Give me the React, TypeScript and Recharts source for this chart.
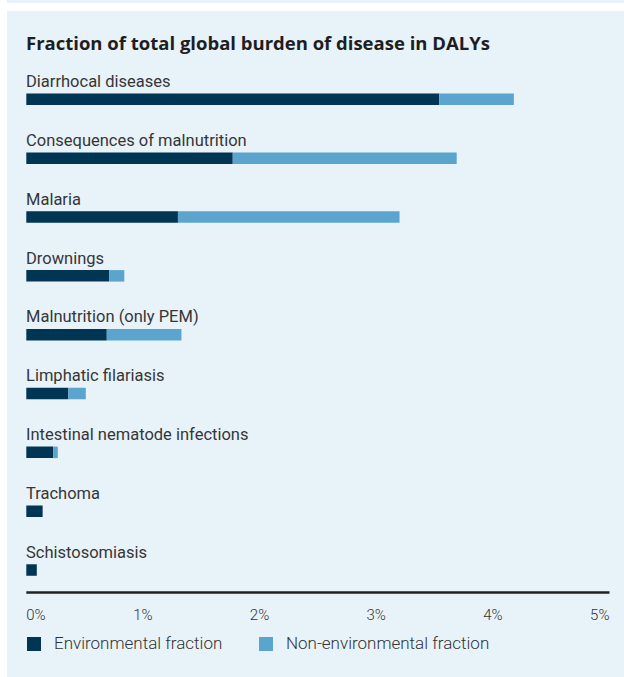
import { BarChart, Bar, XAxis, YAxis } from "recharts";

const categories = [
  "Diarrhocal diseases",
  "Consequences of malnutrition",
  "Malaria",
  "Drownings",
  "Malnutrition (only PEM)",
  "Limphatic filariasis",
  "Intestinal nematode infections",
  "Trachoma",
  "Schistosomiasis",
];
const environmental = [3.54, 1.77, 1.3, 0.71, 0.69, 0.36, 0.23, 0.14, 0.09];
const nonEnvironmental = [0.64, 1.92, 1.9, 0.13, 0.64, 0.15, 0.04, 0, 0];
const xTicks = [0, 1, 2, 3, 4, 5];
const legendLabels = ["Environmental fraction", "Non-environmental fraction"];

const DARK = "#003554";
const LIGHT = "#5ba4cd";
const PANEL = "#e8f2f9";
const FONT = "Roboto, 'Open Sans', sans-serif";

const data = categories.map((name, i) => ({
  name,
  env: environmental[i],
  nonEnv: nonEnvironmental[i],
}));

// category names sit above their bar, left aligned with the zero line
function CategoryTick(props: any) {
  const { y, payload } = props;
  return (
    <text x={26} y={y - 12} textAnchor="start" fill="#363636" fontSize={16.5} fontWeight={400} fontFamily={FONT}>
      {payload.value}
    </text>
  );
}

// first tick left aligned, last right aligned, others centred
function PercentTick(props: any) {
  const { x, y, payload, index } = props;
  const anchor = index === 0 ? "start" : index === xTicks.length - 1 ? "end" : "middle";
  return (
    <text x={x} y={y + 27.5} textAnchor={anchor} fill="#333" fontSize={15} fontWeight={300} fontFamily={FONT}>
      {`${payload.value}%`}
    </text>
  );
}

export default function App() {
  const legendColors = [DARK, LIGHT];
  return (
    <div style={{ position: "absolute", left: 0, top: 0, width: 624, height: 677, background: "#fff", overflow: "hidden" }}>
      <div style={{ position: "absolute", left: 7, top: 0, right: 0, height: 3, background: PANEL }} />
      <div style={{ position: "absolute", left: 7, top: 11, right: 0, bottom: 0, background: PANEL }} />
      <svg style={{ position: "absolute", left: 0, top: 0 }} width={624} height={60}>
        <text x={26} y={50} fill="#1e1e1e" fontSize={18.5} fontWeight={700} fontFamily="'Open Sans', sans-serif">
          Fraction of total global burden of disease in DALYs
        </text>
      </svg>
      <div style={{ position: "absolute", left: 0, top: 0 }}>
        <BarChart
          width={624}
          height={677}
          data={data}
          layout="vertical"
          margin={{ top: 69.6, right: 14.5, bottom: 54.5, left: 25.3 }}
        >
          <XAxis
            type="number"
            domain={[0, 5]}
            ticks={xTicks}
            interval={0}
            height={30}
            tickLine={false}
            tickSize={0}
            tickMargin={0}
            axisLine={{ stroke: "#222", strokeWidth: 2.5 }}
            tick={<PercentTick />}
          />
          <YAxis
            type="category"
            dataKey="name"
            width={1}
            axisLine={false}
            tickLine={false}
            tickSize={0}
            tickMargin={0}
            padding={{ top: 0, bottom: -6.6 }}
            interval={0}
            tick={<CategoryTick />}
          />
          <Bar dataKey="env" stackId="a" fill={DARK} barSize={11.5} isAnimationActive={false} />
          <Bar dataKey="nonEnv" stackId="a" fill={LIGHT} barSize={11.5} isAnimationActive={false} />
        </BarChart>
      </div>
      <div
        style={{
          position: "absolute",
          left: 27,
          top: 636,
          display: "flex",
          fontFamily: FONT,
          fontSize: 17,
          fontWeight: 300,
          color: "#333",
          lineHeight: "15px",
        }}
      >
        {legendLabels.map((label, i) => (
          <div key={label} style={{ display: "flex", alignItems: "center", width: i === 0 ? 232 : 240 }}>
            <span style={{ width: 14, height: 14, background: legendColors[i], marginRight: 13 }} />
            <span>{label}</span>
          </div>
        ))}
      </div>
    </div>
  );
}
